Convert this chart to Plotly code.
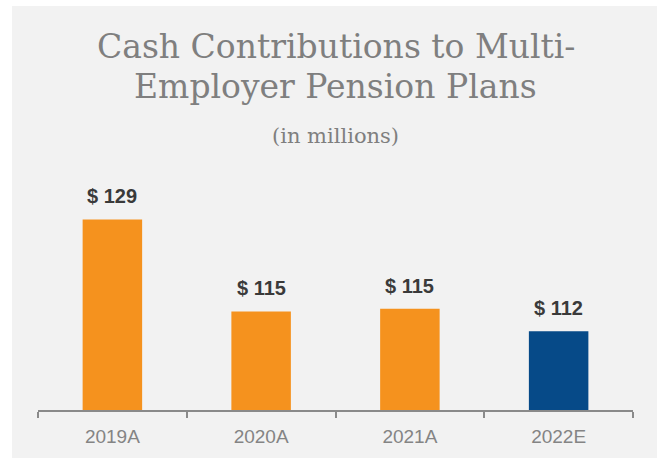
import plotly.graph_objects as go

categories = ["2019A", "2020A", "2021A", "2022E"]
values = [129, 115, 115.4, 112]
value_labels = ["$ 129", "$ 115", "$ 115", "$ 112"]
bar_colors = ["#F5921E", "#F5921E", "#F5921E", "#064A88"]

W, H = 663, 458
ML, MR, MT, MB = 38, 30, 180, 48
PW = W - ML - MR
PH = H - MT - MB

def px_x(p):
    return (p - ML) / PW

def px_y(p):
    return (H - MB - p) / PH

fig = go.Figure()
fig.add_trace(go.Bar(
    x=categories, y=values,
    marker=dict(color=bar_colors, line=dict(width=0)),
    width=0.4,
    hoverinfo="skip",
))

annotations = []
for c, v, t in zip(categories, values, value_labels):
    annotations.append(dict(
        x=c, y=v, xref="x", yref="y", text="<b>" + t + "</b>", showarrow=False,
        yanchor="bottom", yshift=10,
        font=dict(family="Liberation Sans, Arial, sans-serif", size=20, color="#3A3A3A"),
    ))

title_font = dict(family="DejaVu Serif, serif", size=33, color="#7F7F7F")
annotations.append(dict(x=0.5, xref="paper", y=px_y(46), yref="paper",
                        text="Cash Contributions to Multi-", showarrow=False,
                        xanchor="center", yanchor="middle", font=title_font))
annotations.append(dict(x=0.5, xref="paper", y=px_y(87), yref="paper",
                        text="Employer Pension Plans", showarrow=False,
                        xanchor="center", yanchor="middle", font=title_font))
annotations.append(dict(x=0.5, xref="paper", y=px_y(136), yref="paper",
                        text="(in millions)", showarrow=False,
                        xanchor="center", yanchor="middle",
                        font=dict(family="DejaVu Serif, serif", size=21, color="#7F7F7F")))

fig.update_layout(
    width=W, height=H,
    margin=dict(l=ML, r=MR, t=MT, b=MB, pad=0),
    paper_bgcolor="#FFFFFF",
    plot_bgcolor="rgba(0,0,0,0)",
    showlegend=False,
    annotations=annotations,
    shapes=[dict(type="rect", xref="paper", yref="paper",
                 x0=px_x(12), x1=px_x(657), y0=px_y(458), y1=px_y(6),
                 fillcolor="#F2F2F2", line=dict(width=0), layer="below")],
    xaxis=dict(
        range=[-0.5, 3.5], showgrid=False, zeroline=False,
        showline=True, linecolor="#8A8A8A", linewidth=2,
        ticks="outside", tickson="boundaries", ticklen=6, tickwidth=2, tickcolor="#8A8A8A",
        ticklabelstandoff=8,
        tickfont=dict(family="Liberation Sans, Arial, sans-serif", size=19, color="#848484"),
        fixedrange=True,
    ),
    yaxis=dict(range=[100, 135], visible=False, showgrid=False, zeroline=False, fixedrange=True),
)

fig.write_html("out.html",
               config={"displayModeBar": False, "staticPlot": True},
               post_script="document.body.style.margin='0';document.body.style.overflow='hidden';")
